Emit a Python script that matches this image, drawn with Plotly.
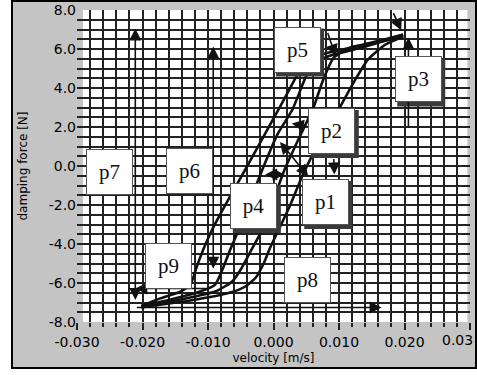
import plotly.graph_objects as go

# ---- data: four branches of the force-velocity hysteresis loops ----
v_branch1 = [-0.0202, -0.0173, -0.0142, -0.0127, -0.0116, -0.0104, -0.0092, -0.0069, -0.0043, -0.0005, 0.0026, 0.0041, 0.0057, 0.0079, 0.0133, 0.0198]
f_branch1 = [-7.18, -6.79, -6.44, -6.08, -5.05, -4.03, -3.15, -1.72, -0.18, 2.13, 4.03, 4.95, 5.46, 5.77, 6.18, 6.74]

v_branch2 = [-0.0202, -0.0157, -0.0112, -0.0089, -0.0078, -0.0066, -0.0053, -0.0035, -0.0017, 0.0006, 0.0029, 0.0049, 0.0064, 0.0087, 0.0141, 0.0198]
f_branch2 = [-7.20, -6.85, -6.44, -6.08, -5.31, -4.28, -3.26, -1.72, -0.18, 1.62, 2.90, 4.54, 5.31, 5.67, 6.13, 6.70]

v_branch3 = [-0.0202, -0.0142, -0.0089, -0.0063, -0.0050, -0.0035, -0.0017, 0.0000, 0.0017, 0.0038, 0.0061, 0.0076, 0.0092, 0.0118, 0.0163, 0.0198]
f_branch3 = [-7.22, -6.85, -6.44, -5.92, -5.31, -4.38, -3.26, -1.72, -0.18, 1.36, 3.00, 4.44, 5.56, 6.08, 6.38, 6.66]

v_branch4 = [-0.0202, -0.0127, -0.0066, -0.0043, -0.0027, -0.0015, -0.0005, 0.0008, 0.0026, 0.0043, 0.0064, 0.0087, 0.0102, 0.0125, 0.0144, 0.0171, 0.0198]
f_branch4 = [-7.25, -6.90, -6.49, -6.18, -5.72, -5.00, -4.18, -3.26, -1.97, -0.59, 0.85, 2.13, 3.05, 4.44, 5.46, 6.23, 6.62]

x_tick_vals = [-0.030, -0.020, -0.010, 0.000, 0.010, 0.020, 0.030]
x_tick_text = ["-0.030", "-0.020", "-0.010", "0.000", "0.010", "0.020", ""]
x_edge_label = "0.03"   # last x label, clipped by the frame in the original
y_tick_vals = [-8, -6, -4, -2, 0, 2, 4, 6, 8]
y_tick_text = ["-8.0", "-6.0", "-4.0", "-2.0", "0.0", "2.0", "4.0", "6.0", "8.0"]

# label boxes: text, velocity centre, force centre, drop shadow
box_labels = ["p1", "p2", "p3", "p4", "p5", "p6", "p7", "p8", "p9"]
box_v = [0.0079, 0.0089, 0.0221, -0.0030, 0.0036, -0.0128, -0.0250, 0.0052, -0.0160]
box_f = [-1.85, 1.79, 4.44, -2.05, 5.97, -0.28, -0.31, -5.87, -5.13]
box_shadow = [True, True, True, True, True, False, False, False, False]

# pointer arrows: tail (v, F) -> head (v, F), double-headed?
arrow_tail_v = [-0.0211, -0.0092, -0.0211, -0.0101, 0.0182, 0.0206, 0.0082, 0.0008, 0.0053, -0.0015, 0.0092]
arrow_tail_f = [-6.95, -5.35, -7.26, -6.28, 7.92, 1.87, 6.90, 1.31, 2.03, -0.44, 0.44]
arrow_head_v = [-0.0211, -0.0092, 0.0165, -0.0211, 0.0195, 0.0206, 0.0095, 0.0053, 0.0028, 0.0017, 0.0093]
arrow_head_f = [7.05, 6.13, -7.26, -6.28, 6.95, 6.59, 5.62, -0.54, 2.18, -0.44, -0.44]
arrow_double = [True, True, False, False, False, False, False, True, False, True, False]

GRAY = "#c4c4c4"
GRID = "#222222"
FONT = "DejaVu Sans"

fig = go.Figure()
for vv, ff in [(v_branch1, f_branch1), (v_branch2, f_branch2),
               (v_branch3, f_branch3), (v_branch4, f_branch4)]:
    fig.add_trace(go.Scatter(x=vv, y=ff, mode="lines",
                             line=dict(color="#111111", width=2.6, shape="spline", smoothing=0.5),
                             hoverinfo="skip"))

shapes = [
    dict(type="rect", xref="paper", yref="paper",
         x0=(12 - 77) / 393, x1=(476 - 77) / 393, y0=(322 - 368) / 312, y1=(322 - 1) / 312,
         fillcolor=GRAY, line=dict(color="black", width=2), layer="below"),
    dict(type="rect", xref="x", yref="y", x0=-0.0291, x1=0.0296, y0=-8, y1=8,
         fillcolor="white", line=dict(width=0), layer="below"),
    dict(type="rect", xref="x", yref="paper", x0=-0.0302, x1=-0.0291, y0=-0.005, y1=1.005,
         fillcolor=GRAY, line=dict(width=0), layer="between"),
    dict(type="rect", xref="x", yref="paper", x0=0.0296, x1=0.0302, y0=-0.005, y1=1.005,
         fillcolor=GRAY, line=dict(width=0), layer="between"),
]
for lab, bv, bf, sh in zip(box_labels, box_v, box_f, box_shadow):
    if sh:
        shapes.append(dict(type="rect", xref="x", yref="y", xsizemode="pixel", ysizemode="pixel",
                           xanchor=bv, yanchor=bf, x0=-21, x1=27, y0=-27, y1=21,
                           fillcolor="#3a3a3a", line=dict(width=0), layer="above"))

annotations = []
for tv, tf, hv, hf, dbl in zip(arrow_tail_v, arrow_tail_f, arrow_head_v, arrow_head_f, arrow_double):
    annotations.append(dict(x=hv, y=hf, ax=tv, ay=tf, xref="x", yref="y", axref="x", ayref="y",
                            text="", showarrow=True, arrowhead=2, arrowsize=1.5, arrowwidth=1.6,
                            arrowcolor="#111111", standoff=0, startstandoff=0,
                            arrowside="end+start" if dbl else "end", startarrowhead=2,
                            startarrowsize=1.5))
for lab, bv, bf in zip(box_labels, box_v, box_f):
    annotations.append(dict(x=bv, y=bf, xref="x", yref="y", text=lab, showarrow=False,
                            font=dict(family="Liberation Serif", size=21, color="#111111"),
                            bgcolor="white", bordercolor="#555555", borderwidth=1, borderpad=0,
                            width=45, height=44, align="center", valign="middle"))
# right-most x label, kept inside the frame
annotations.append(dict(x=(475 - 77) / 393, y=(322 - 340) / 312, xref="paper", yref="paper",
                        xanchor="right", yanchor="middle", text=x_edge_label, showarrow=False,
                        font=dict(family=FONT, size=14, color="#000000")))

fig.update_layout(
    width=477, height=375,
    margin=dict(l=77, r=7, t=10, b=53, autoexpand=False),
    paper_bgcolor="white", plot_bgcolor="rgba(0,0,0,0)",
    showlegend=False,
    shapes=shapes, annotations=annotations,
    xaxis=dict(range=[-0.030, 0.030], tickmode="array", tickvals=x_tick_vals, ticktext=x_tick_text,
               showgrid=True, gridcolor=GRID, gridwidth=1.6, zeroline=False, showline=False,
               automargin=False,
               ticks="outside", ticklen=7, tickwidth=1.5, tickcolor="#222",
               ticklabeloverflow="allow",
               tickfont=dict(family=FONT, size=14, color="#000000"),
               minor=dict(tick0=-0.030, dtick=0.002, showgrid=True, gridcolor=GRID, gridwidth=1.6,
                          ticks="outside", ticklen=4, tickwidth=1.5, tickcolor="#222"),
               title=dict(text="velocity [m/s]", font=dict(family=FONT, size=12, color="#000000"),
                          standoff=4)),
    yaxis=dict(range=[-8, 8], tickmode="array", tickvals=y_tick_vals, ticktext=y_tick_text,
               showgrid=True, gridcolor=GRID, gridwidth=1.6, zeroline=False, showline=False,
               automargin=False,
               ticks="inside", ticklen=6, tickwidth=1.5, tickcolor="#222",
               ticklabeloverflow="allow",
               tickfont=dict(family=FONT, size=14, color="#000000"),
               minor=dict(tick0=-8, dtick=0.5, showgrid=True, gridcolor=GRID, gridwidth=1.6),
               title=dict(text="damping force [N]", font=dict(family=FONT, size=12, color="#000000"),
                          standoff=18)),
)

fig.write_html("out.html")
